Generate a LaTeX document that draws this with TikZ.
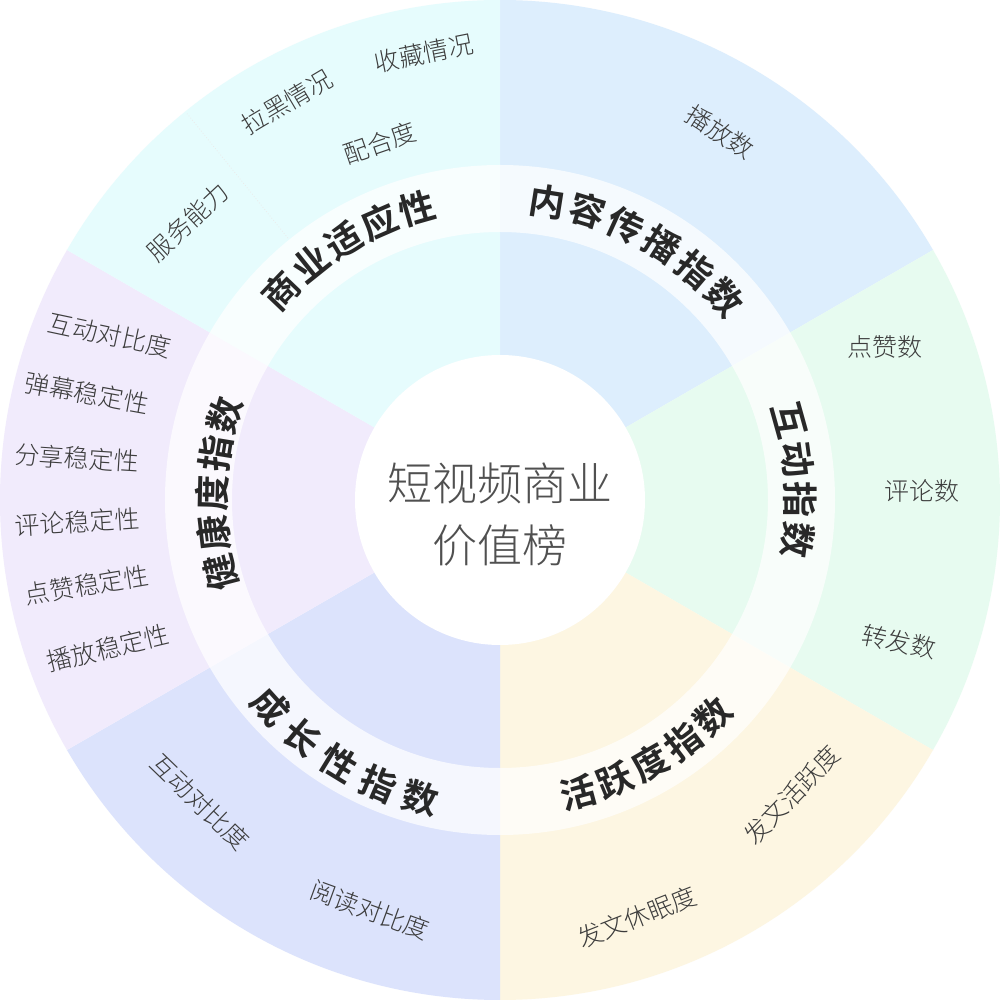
\documentclass[tikz,border=0pt]{standalone}
\usepackage{fontspec}
\setmainfont{Noto Sans CJK SC}
\IfFontExistsTF{Noto Sans CJK SC Bold}{\newfontfamily\cjkb{Noto Sans CJK SC Bold}}{\newfontfamily\cjkb[FakeBold=2]{Noto Sans CJK SC}}
\IfFontExistsTF{Noto Sans CJK SC Light}{\newfontfamily\cjkl{Noto Sans CJK SC Light}}{\newfontfamily\cjkl{Noto Sans CJK SC}}
\definecolor{cBlue}{RGB}{221,238,253}
\definecolor{cGreen}{RGB}{231,251,240}
\definecolor{cYellow}{RGB}{253,246,226}
\definecolor{cIndigo}{RGB}{220,227,252}
\definecolor{cPurple}{RGB}{241,235,252}
\definecolor{cCyan}{RGB}{230,252,253}
\definecolor{tDark}{RGB}{40,40,40}
\definecolor{tSub}{RGB}{60,60,60}
\definecolor{tCenter}{RGB}{80,80,80}
\tikzset{
  sublabel/.style={font=\cjkl\fontsize{25}{28}\selectfont, text=tSub, inner sep=0pt},
  catlabel/.style={font=\cjkb\fontsize{36}{40}\selectfont, text=tDark, inner sep=0pt},
  centerlabel/.style={font=\cjkl\fontsize{45}{50}\selectfont, text=tCenter, inner sep=0pt},
}
\begin{document}
\begin{tikzpicture}[x=1pt,y=1pt]
\useasboundingbox (-500,-500) rectangle (500,500);
\fill[white] (-500,-500) rectangle (500,500);
% sectors
\fill[cBlue]   (0,0) -- (90:500)  arc[start angle=90,  end angle=30,  radius=500pt] -- cycle;
\fill[cGreen]  (0,0) -- (30:500)  arc[start angle=30,  end angle=-30, radius=500pt] -- cycle;
\fill[cYellow] (0,0) -- (-30:500) arc[start angle=-30, end angle=-90, radius=500pt] -- cycle;
\fill[cIndigo] (0,0) -- (-90:500) arc[start angle=-90, end angle=-150,radius=500pt] -- cycle;
\fill[cPurple] (0,0) -- (210:500) arc[start angle=210, end angle=150, radius=500pt] -- cycle;
\fill[cCyan]   (0,0) -- (150:500) arc[start angle=150, end angle=90,  radius=500pt] -- cycle;
% faint sub-division line
\coordinate (fa) at (129:337);
\coordinate (fb) at (129:497);
\draw[black!8, line width=0.8pt, dotted] (fa) -- (fb);
% band
\fill[white, opacity=0.72, even odd rule] (0,0) circle[radius=335pt] (0,0) circle[radius=268pt];
% center
\fill[white] (0,0) circle[radius=145pt];
\node[centerlabel] (t1) at (0,17) {短视频商业};
\node[centerlabel] (t2) at (0,-45) {价值榜};
% category labels
\foreach \c [count=\i from 0] in {内,容,传,播,指,数}
  \node[catlabel, rotate={81-\i*7.8-90}] (ca\i) at ({81-\i*7.8}:302) {\c};
\foreach \c [count=\i from 0] in {互,动,指,数}
  \node[catlabel, rotate={15.5-\i*7.7-90}] (cb\i) at ({15.5-\i*7.7}:300) {\c};
\foreach \c [count=\i from 0] in {活,跃,度,指,数}
  \node[catlabel, rotate={-75+\i*7.4+90}] (cc\i) at ({-75+\i*7.4}:303) {\c};
\foreach \c [count=\i from 0] in {成,长,性,指,数}
  \node[catlabel, rotate={-138+\i*8.25+90}] (cd\i) at ({-138+\i*8.25}:309) {\c};
\foreach \c [count=\i from 0] in {健,康,度,指,数}
  \node[catlabel, rotate={194.5-\i*7.9-90}] (ce\i) at ({194.5-\i*7.9}:288) {\c};
\foreach \c [count=\i from 0] in {商,业,适,应,性}
  \node[catlabel, rotate={136.3-\i*7.6-90}] (cf\i) at ({136.3-\i*7.6}:303) {\c};
% sub labels
\node[sublabel, rotate=-33] (s1) at (220,368) {播放数};
\node[sublabel] (s2) at (385,153) {点赞数};
\node[sublabel] (s3) at (422,9) {评论数};
\node[sublabel, rotate=-12] (s4) at (399,-142) {转发数};
\node[sublabel, rotate=46] (s5) at (292,-295) {发文活跃度};
\node[sublabel, rotate=21.5] (s6) at (137,-417) {发文休眠度};
\node[sublabel, rotate=-44] (s7) at (-300,-302) {互动对比度};
\node[sublabel, rotate=-20] (s8) at (-130,-410) {阅读对比度};
\node[sublabel, rotate=-12] (s9) at (-390,165) {互动对比度};
\node[sublabel, rotate=-10.4] (s10) at (-413,107) {弹幕稳定性};
\node[sublabel, rotate=-3.7] (s11) at (-423,42) {分享稳定性};
\node[sublabel, rotate=3.7] (s12) at (-423,-22) {评论稳定性};
\node[sublabel, rotate=9.5] (s13) at (-413,-85) {点赞稳定性};
\node[sublabel, rotate=13.6] (s14) at (-392,-148) {播放稳定性};
\node[sublabel, rotate=43] (s15) at (-312,278) {服务能力};
\node[sublabel, rotate=30.6] (s16) at (-213,398) {拉黑情况};
\node[sublabel, rotate=11.3] (s17) at (-76,447) {收藏情况};
\node[sublabel, rotate=19] (s18) at (-120,357) {配合度};
\end{tikzpicture}
\end{document}
